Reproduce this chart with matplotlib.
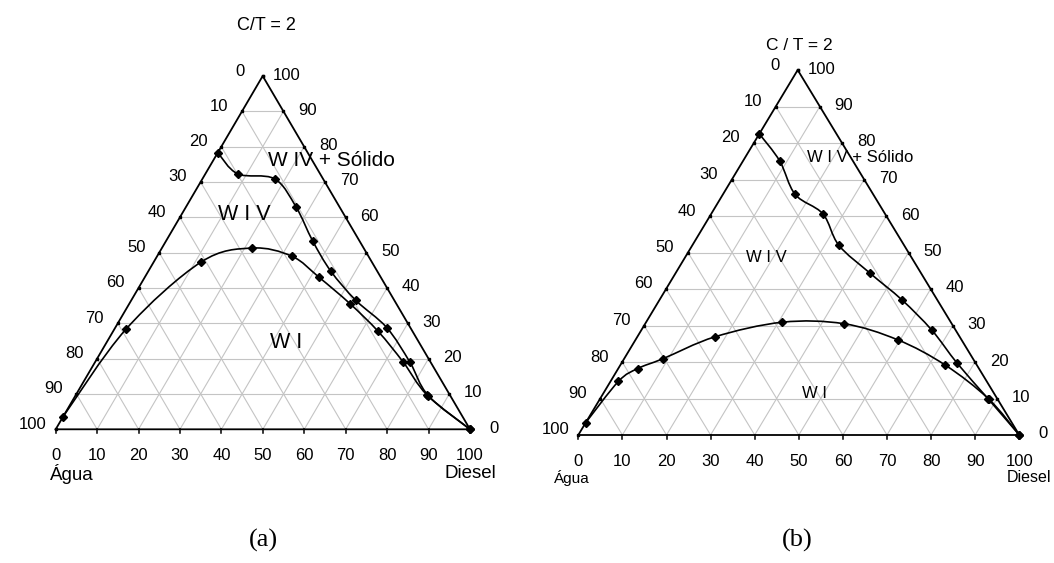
import matplotlib.pyplot as plt
from matplotlib.path import Path
from matplotlib.patches import PathPatch
import numpy as np

plt.rcParams['font.family'] = ['Liberation Sans', 'DejaVu Sans']

# ternary data: D = Diesel (%), T = C/T top component (%)
upper_a_D = [0, 7.8, 17.4, 26.6, 35.4, 44.0, 54.2, 65.5, 76.0, 85.2, 100]
upper_a_T = [78.3, 72.3, 70.9, 62.9, 53.3, 44.8, 36.5, 28.8, 19.0, 9.5, 0]
lower_a_D = [0, 2.8, 11.4, 21.7, 32.5, 42.1, 53.2, 64.0, 74.4, 84.8, 100]
lower_a_T = [3.6, 28.3, 47.3, 51.3, 49.0, 43.0, 35.6, 27.7, 19.0, 9.7, 0]

upper_b_D = [0, 8.3, 16.4, 25.3, 33.2, 44.0, 55.0, 65.9, 76.2, 87.9, 100]
upper_b_T = [82.5, 75.1, 65.9, 60.6, 52.0, 44.4, 37.0, 28.7, 19.6, 10.0, 0]
lower_b_D = [0, 1.8, 4.4, 8.8, 17.6, 30.9, 45.0, 59.4, 73.6, 88.1, 100]
lower_b_T = [3.4, 14.7, 18.2, 20.9, 26.9, 30.9, 30.5, 26.1, 19.2, 9.9, 0]

ticks = list(range(0, 101, 10))

fig = plt.figure(figsize=(10.54, 5.63), dpi=100)
ax = fig.add_axes([0, 0, 1, 1])
ax.set_xlim(0, 1054)
ax.set_ylim(563, 0)
ax.axis('off')


def make_tri(A, B, C):
    A, B, C = np.array(A), np.array(B), np.array(C)

    def f(D, T):
        D = np.asarray(D, float) / 100
        T = np.asarray(T, float) / 100
        W = 1 - D - T
        x = W * A[0] + D * B[0] + T * C[0]
        y = W * A[1] + D * B[1] + T * C[1]
        return x, y
    return f


def smooth_path(x, y):
    pts = np.column_stack([x, y])
    n = len(pts)
    verts = [pts[0]]
    codes = [Path.MOVETO]
    for i in range(n - 1):
        p0 = pts[max(i - 1, 0)]
        p1 = pts[i]
        p2 = pts[i + 1]
        p3 = pts[min(i + 2, n - 1)]
        c1 = p1 + (p2 - p0) / 6
        c2 = p2 - (p3 - p1) / 6
        verts += [c1, c2, p2]
        codes += [Path.CURVE4] * 3
    return Path(verts, codes)


def draw(tri, fs, curves, labels):
    # grid
    for k in ticks[1:-1]:
        for (d0, t0, d1, t1) in [(0, k, 100 - k, k), (k, 0, k, 100 - k), (100 - k, 0, 0, 100 - k)]:
            x, y = tri([d0, d1], [t0, t1])
            ax.plot(x, y, color='#c4c4c4', lw=0.8, zorder=1)
    # frame
    x, y = tri([0, 100, 0, 0], [0, 0, 100, 0])
    ax.plot(x, y, color='black', lw=1.3, zorder=3)
    # ticks and labels
    for k in ticks:
        bx, by = tri(k, 0)
        ax.plot([bx, bx], [by, by + 4], color='black', lw=1.1, zorder=3)
        ax.text(bx, by + 26, str(k), ha='center', va='center', fontsize=fs)
        lx, ly = tri(0, 100 - k)
        ax.plot(lx, ly, 's', ms=2, color='black', zorder=3)
        ax.text(lx - 23, ly - 5, str(k), ha='center', va='center', fontsize=fs)
        rx, ry = tri(100 - k, k)
        ax.plot(rx, ry, 's', ms=2, color='black', zorder=3)
        ax.text(rx + 24, ry - 1, str(k), ha='center', va='center', fontsize=fs)
    for D, T in curves:
        x, y = tri(D, T)
        ax.add_patch(PathPatch(smooth_path(x, y), fc='none', ec='black', lw=1.2, zorder=4))
        ax.plot(x, y, 'D', ms=4.5, color='black', zorder=5)
    for txt, px, py, s in labels:
        ax.text(px, py, txt, ha='center', va='center', fontsize=s)


tri_a = make_tri((55.7, 429.3), (470, 429.3), (262.7, 76))
tri_b = make_tri((578.3, 435), (1019.3, 435), (797.7, 70))

draw(tri_a, 12, [(upper_a_D, upper_a_T), (lower_a_D, lower_a_T)],
     [('W IV + Sólido', 331, 161, 15), ('W I V', 244, 215, 15.5), ('W I', 286, 343, 15.5),
      ('C/T = 2', 266, 25, 13), ('Água', 72, 474, 13.5), ('Diesel', 470, 474, 13.5)])
draw(tri_b, 12, [(upper_b_D, upper_b_T), (lower_b_D, lower_b_T)],
     [('W I V + Sólido', 860, 158, 12), ('W I V', 766, 257, 12), ('W I', 815, 394, 12),
      ('C / T = 2', 799, 45, 12.5), ('Água', 572, 478, 11), ('Diesel', 1029, 477, 11.5)])

ax.text(263, 540, '(a)', ha='center', va='center', fontsize=19, family='Liberation Serif')
ax.text(797, 540, '(b)', ha='center', va='center', fontsize=19, family='Liberation Serif')

fig.savefig('out.png', dpi=100)
